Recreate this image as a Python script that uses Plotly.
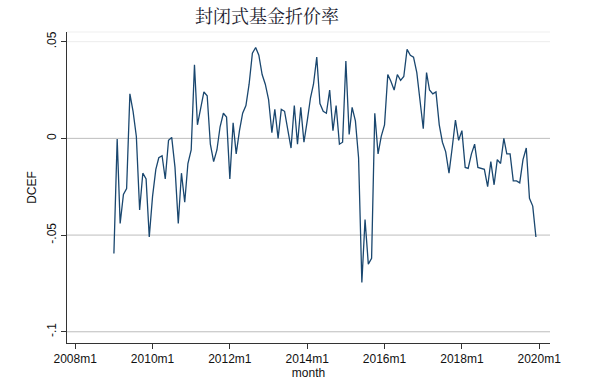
import plotly.graph_objects as go
import pandas as pd

start_month = "2009-01-01"
dcef = [
    -0.0595, -0.0003, -0.044, -0.029, -0.026, 0.023, 0.014, 0.001, -0.037, -0.018, -0.021, -0.051,
    -0.030, -0.016, -0.010, -0.009, -0.021, -0.001, 0.0005, -0.015, -0.044, -0.018, -0.033, -0.013,
    -0.006, 0.038, 0.007, 0.015, 0.024, 0.022, -0.003, -0.012, -0.006, 0.006, 0.013, 0.011,
    -0.021, 0.008, -0.008, 0.004, 0.013, 0.017, 0.028, 0.044, 0.047, 0.043, 0.033, 0.028,
    0.020, 0.003, 0.015, 0.000, 0.015, 0.014, 0.004, -0.005, 0.017, -0.003, 0.016, -0.002,
    0.009, 0.021, 0.028, 0.042, 0.018, 0.014, 0.013, 0.025, 0.004, 0.017, -0.003, -0.002,
    0.040, 0.002, 0.016, 0.009, -0.010, -0.0745, -0.042, -0.065, -0.062, 0.013, -0.008, 0.001,
    0.007, 0.033, 0.0295, 0.025, 0.033, 0.030, 0.032, 0.046, 0.043, 0.042, 0.034, 0.020,
    0.005, 0.034, 0.025, 0.023, 0.024, 0.007, -0.002, -0.007, -0.018, -0.005, 0.0095, -0.001,
    0.004, -0.015, -0.0155, -0.008, -0.003, -0.015, -0.0155, -0.016, -0.025, -0.012, -0.024, -0.011,
    -0.013, 0.000, -0.008, -0.008, -0.022, -0.022, -0.023, -0.011, -0.005, -0.031, -0.035, -0.051,
]
months = pd.date_range(start_month, periods=len(dcef), freq="MS")

x_tick_vals = ["2008-01-01", "2010-01-01", "2012-01-01", "2014-01-01",
               "2016-01-01", "2018-01-01", "2020-01-01"]
x_tick_text = ["2008m1", "2010m1", "2012m1", "2014m1", "2016m1", "2018m1", "2020m1"]
y_tick_vals = [-0.1, -0.05, 0, 0.05]
y_tick_text = ["-.1", "-.05", "0", ".05"]

title_text = "封闭式基金折价率"
x_title = "month"
y_title = "DCEF"

fig = go.Figure()
fig.add_trace(go.Scatter(x=months, y=dcef, mode="lines",
                         line=dict(color="#1a476f", width=1.3), showlegend=False))

# gridlines (Stata-like)
grid_colors = {-0.1: "#bdbdbd", -0.05: "#bdbdbd", 0: "#bdbdbd", 0.05: "#ececec"}
for v, c in grid_colors.items():
    fig.add_shape(type="line", xref="paper", x0=0, x1=1, yref="y", y0=v, y1=v,
                  line=dict(color=c, width=1), layer="below")
fig.add_shape(type="line", xref="paper", x0=0, x1=1, yref="paper", y0=1, y1=1,
              line=dict(color="#efefef", width=1), layer="below")

fig.update_layout(
    width=604, height=384,
    margin=dict(l=67, r=54, t=32, b=41),
    paper_bgcolor="white", plot_bgcolor="white",
    font=dict(family="Liberation Sans, Arial, sans-serif", size=12, color="#111111"),
    title=dict(text=title_text, x=(267 - 67) / 483, xref="paper", xanchor="center",
               y=1 - 17 / 384, yref="container", yanchor="middle",
               font=dict(family="Noto Serif CJK SC, Noto Sans CJK SC", size=18, color="#1a1a2e")),
    xaxis=dict(range=["2007-10-16", "2020-04-12"], tickvals=x_tick_vals, ticktext=x_tick_text,
               showgrid=False, zeroline=False, showline=True, linecolor="#333333", linewidth=1,
               ticks="outside", ticklen=5, tickcolor="#333333", automargin=False,
               tickfont=dict(size=12), ticklabelstandoff=0,
               title=dict(text=x_title, font=dict(size=12), standoff=1)),
    yaxis=dict(range=[-0.1058, 0.0550], tickvals=y_tick_vals, ticktext=y_tick_text,
               tickangle=-90, showgrid=False, zeroline=False, showline=True,
               linecolor="#333333", linewidth=1, automargin=False,
               ticks="outside", ticklen=5, tickcolor="#333333",
               tickfont=dict(size=12), ticklabelstandoff=0,
               title=dict(text=y_title, font=dict(size=12), standoff=6)),
)

fig.write_html("out.html", config={"displayModeBar": False},
               post_script="document.body.style.margin='0';")
